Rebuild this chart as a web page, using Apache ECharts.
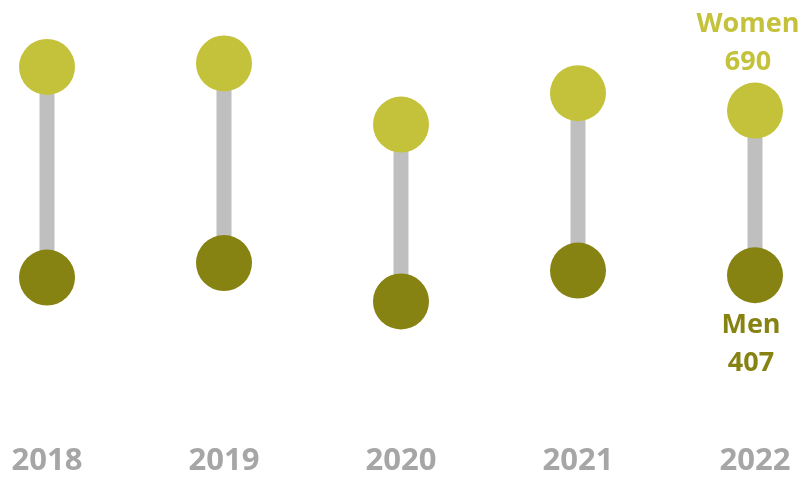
<!DOCTYPE html>
<html>
<head>
<meta charset="utf-8">
<script src="https://cdn.jsdelivr.net/npm/echarts@6/dist/echarts.min.js"></script>
<style>html,body{margin:0;padding:0;background:#fff}#c{width:804px;height:477px}</style>
</head>
<body>
<div id="c"></div>
<script>
const years = ['2018', '2019', '2020', '2021', '2022'];
const women = [765, 771, 666, 720, 690];
const men = [403, 428, 362, 415, 407];
const womenName = 'Women';
const menName = 'Men';

const chart = echarts.init(document.getElementById('c'));
const FONT = '"Open Sans", "Noto Sans", sans-serif';
const last = years.length - 1;

const womenData = women.map((v, i) => i === last ? {
  value: v,
  label: { show: true, position: 'top', distance: 1, offset: [-7, 0],
    formatter: womenName + '\n{c}', color: '#C4C23B', fontFamily: FONT,
    fontWeight: 'bold', fontSize: 27, lineHeight: 38 }
} : v);
const menData = men.map((v, i) => i === last ? {
  value: v,
  label: { show: true, position: 'bottom', distance: 3, offset: [-4, 0],
    formatter: menName + '\n{c}', color: '#878313', fontFamily: FONT,
    fontWeight: 'bold', fontSize: 27, lineHeight: 38 }
} : v);

chart.setOption({
  animation: false,
  grid: { left: 47, right: 49, top: 46.6, bottom: 137.7, containLabel: false },
  xAxis: {
    type: 'category', data: years, boundaryGap: false,
    axisLine: { show: false }, axisTick: { show: false },
    axisLabel: { color: '#A6A6A6', fontFamily: FONT, fontWeight: 'bold', fontSize: 31,
      margin: 124, verticalAlign: 'middle' }
  },
  yAxis: {
    type: 'value', min: 300, max: 800, interval: 100, show: false,
    splitLine: { show: false }
  },
  series: [
    {
      type: 'custom',
      data: years.map((y, i) => [i, men[i], women[i]]),
      renderItem: function (params, api) {
        const p1 = api.coord([api.value(0), api.value(1)]);
        const p2 = api.coord([api.value(0), api.value(2)]);
        return {
          type: 'line',
          shape: { x1: p1[0], y1: p1[1], x2: p2[0], y2: p2[1] },
          style: { stroke: '#BFBFBF', lineWidth: 15 }
        };
      },
      z: 1
    },
    {
      name: womenName, type: 'scatter', data: womenData, symbolSize: 56,
      itemStyle: { color: '#C4C23B', opacity: 1 }, z: 3
    },
    {
      name: menName, type: 'scatter', data: menData, symbolSize: 56,
      itemStyle: { color: '#878313', opacity: 1 }, z: 3
    }
  ]
});
</script>
</body>
</html>
